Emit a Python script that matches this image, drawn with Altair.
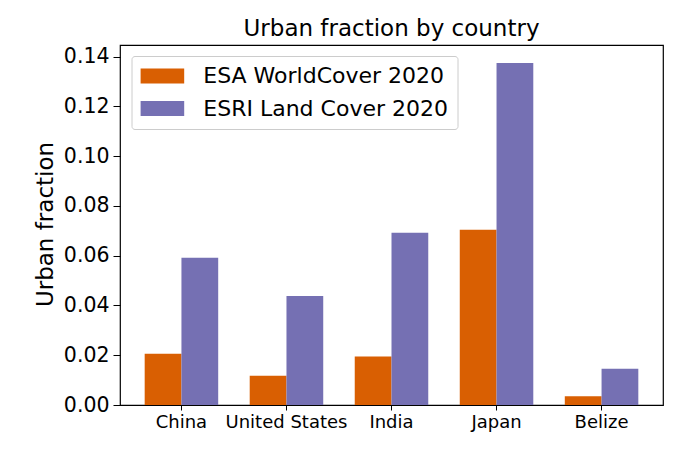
import altair as alt
import pandas as pd

countries = ["China", "United States", "India", "Japan", "Belize"]
esa_worldcover = [0.0206, 0.0118, 0.0195, 0.0704, 0.0035]
esri_landcover = [0.0592, 0.0438, 0.0692, 0.1375, 0.0146]
series_names = ["ESA WorldCover 2020", "ESRI Land Cover 2020"]
series_colors = ["#d95f02", "#7570b3"]
y_ticks = [0.0, 0.02, 0.04, 0.06, 0.08, 0.10, 0.12, 0.14]

rows = []
for c, a, b in zip(countries, esa_worldcover, esri_landcover):
    rows.append({"country": c, "source": series_names[0], "value": a})
    rows.append({"country": c, "source": series_names[1], "value": b})
df = pd.DataFrame(rows)

FONT = "DejaVu Sans"

chart = alt.Chart(df).mark_bar().encode(
    x=alt.X("country:N", sort=countries,
            scale=alt.Scale(paddingInner=0.3, paddingOuter=0.235),
            axis=alt.Axis(title=None, labelAngle=0, labelFontSize=18, labelFont=FONT,
                          labelColor="black", tickColor="black", tickSize=5,
                          labelPadding=3, domain=False)),
    xOffset=alt.XOffset("source:N", sort=series_names,
                        scale=alt.Scale(paddingInner=0, paddingOuter=0)),
    y=alt.Y("value:Q", scale=alt.Scale(domain=[0, 0.1447], nice=False, zero=True),
            axis=alt.Axis(title="Urban fraction", values=y_ticks, format=".2f",
                          labelFontSize=20.5, labelFont=FONT, labelColor="black",
                          tickColor="black", tickSize=7, labelPadding=4,
                          grid=False, domain=False,
                          titleFontSize=23, titleFont=FONT, titleFontWeight="normal",
                          titleColor="black", titleX=-68, titleY=179,
                          titleAngle=270, titleAlign="center", titleBaseline="alphabetic")),
    color=alt.Color("source:N", sort=series_names,
                    scale=alt.Scale(domain=series_names, range=series_colors),
                    legend=alt.Legend(title=None, orient="none", legendX=11.5, legendY=11,
                                      symbolType="M-1,-0.69L3,-0.69L3,0.69L-1,0.69Z",
                                      symbolSize=475, symbolStrokeWidth=0,
                                      symbolOpacity=1,
                                      labelFontSize=22, labelFont=FONT, labelColor="black",
                                      labelOffset=40.8, padding=9, rowPadding=10.5,
                                      strokeColor="#cccccc", fillColor="white",
                                      cornerRadius=3, labelLimit=400)),
).properties(
    width=543,
    height=360,
    title=alt.TitleParams("Urban fraction by country", fontSize=23, font=FONT,
                          fontWeight="normal", color="black", anchor="middle", offset=4),
    autosize=alt.AutoSizeParams(type="none"),
    padding={"left": 120, "top": 45, "right": 17, "bottom": 48},
).configure(background="white").configure_view(stroke="black", strokeWidth=1.2)

chart.save("out.html", embed_options={"renderer": "svg", "actions": False})
